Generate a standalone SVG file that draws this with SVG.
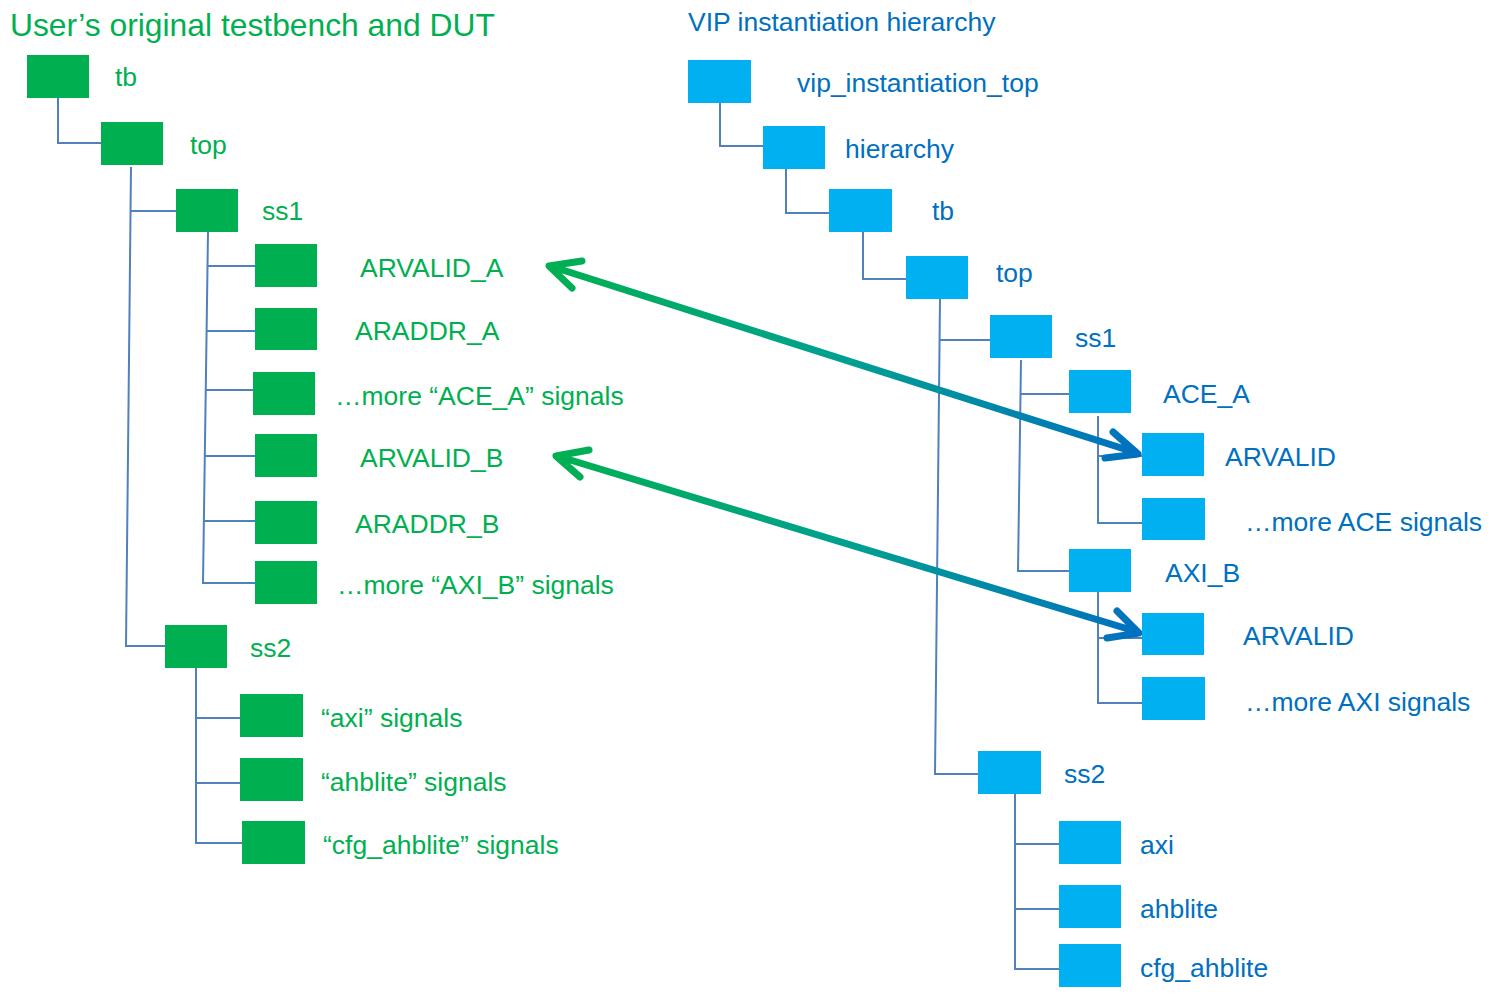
<svg xmlns="http://www.w3.org/2000/svg" width="1499" height="994" viewBox="0 0 1499 994">
<style>
.g{fill:#00B050}
.b{fill:#00B0F0}
.tg{fill:#00B050;font-family:"Liberation Sans",Arial,sans-serif;font-size:26.5px}
.tb{fill:#0070C0;font-family:"Liberation Sans",Arial,sans-serif;font-size:26.5px}
.ln{fill:none;stroke:#4F81BD;stroke-width:2}
.ar{fill:none;stroke-width:7;stroke-linecap:round;stroke-linejoin:round}
</style>
<defs>
<linearGradient id="grad1" gradientUnits="userSpaceOnUse" x1="547" y1="265" x2="1140" y2="454">
<stop offset="0" stop-color="#00B050"/>
<stop offset="0.5" stop-color="#00A090"/>
<stop offset="1" stop-color="#0070C0"/>
</linearGradient>
<linearGradient id="grad2" gradientUnits="userSpaceOnUse" x1="554" y1="455" x2="1141" y2="633">
<stop offset="0" stop-color="#00B050"/>
<stop offset="0.5" stop-color="#00A090"/>
<stop offset="1" stop-color="#0070C0"/>
</linearGradient>
</defs>
<rect width="1499" height="994" fill="#FFFFFF"/>
<text class="tg" x="10" y="36" style="font-size:31.8px">User’s original testbench and DUT</text>
<text class="tb" x="688" y="31">VIP instantiation hierarchy</text>

<g id="connectors">
<polyline class="ln" points="58,98 58,143 101,143"/>
<polyline class="ln" points="131,167 126,646 165,646"/>
<line class="ln" x1="130" y1="211" x2="176" y2="211"/>
<polyline class="ln" points="208,232 203,583 255,583"/>
<line class="ln" x1="207" y1="266" x2="255" y2="266"/>
<line class="ln" x1="207" y1="331" x2="255" y2="331"/>
<line class="ln" x1="206" y1="390" x2="253" y2="390"/>
<line class="ln" x1="205" y1="456" x2="255" y2="456"/>
<line class="ln" x1="204" y1="521" x2="255" y2="521"/>
<polyline class="ln" points="196,668 196,843 242,843"/>
<line class="ln" x1="195" y1="718" x2="240" y2="718"/>
<line class="ln" x1="195" y1="783" x2="240" y2="783"/>

<polyline class="ln" points="720,103 720,146 763,146"/>
<polyline class="ln" points="786,169 786,213 829,213"/>
<polyline class="ln" points="863,232 863,279 906,279"/>
<polyline class="ln" points="940,299 935,774 978,774"/>
<line class="ln" x1="940" y1="340" x2="990" y2="340"/>
<polyline class="ln" points="1021,360 1018,571 1069,571"/>
<line class="ln" x1="1020" y1="394" x2="1069" y2="394"/>
<polyline class="ln" points="1098,416 1098,523 1142,523"/>
<line class="ln" x1="1098" y1="456" x2="1142" y2="456"/>
<polyline class="ln" points="1098,592 1098,703 1142,703"/>
<line class="ln" x1="1098" y1="638" x2="1142" y2="638"/>
<polyline class="ln" points="1015,794 1015,969 1059,969"/>
<line class="ln" x1="1014" y1="844" x2="1059" y2="844"/>
<line class="ln" x1="1014" y1="909" x2="1059" y2="909"/>

<path class="ar" stroke="url(#grad1)" d="M550,266 L1137,453 M582,261 L549,266 L572,288 M1113,432 L1138,454 L1105,458"/>
<path class="ar" stroke="url(#grad2)" d="M557,456 L1138,632 M589,450 L556,456 L580,477 M1117,611 L1139,633 L1107,638"/>
</g>

<g id="l-tb"><rect class="g" x="27" y="55" width="62" height="43"/><text class="tg" x="115" y="86">tb</text></g>
<g id="l-top"><rect class="g" x="101" y="122" width="62" height="43"/><text class="tg" x="190" y="154">top</text></g>
<g id="l-ss1"><rect class="g" x="176" y="189" width="62" height="43"/><text class="tg" x="262" y="220">ss1</text></g>
<g id="l-arvalid-a"><rect class="g" x="255" y="244" width="62" height="43"/><text class="tg" x="360" y="277">ARVALID_A</text></g>
<g id="l-araddr-a"><rect class="g" x="255" y="308" width="62" height="42"/><text class="tg" x="355" y="340">ARADDR_A</text></g>
<g id="l-more-ace"><rect class="g" x="253" y="372" width="62" height="43"/><text class="tg" x="335" y="405">…more “ACE_A” signals</text></g>
<g id="l-arvalid-b"><rect class="g" x="255" y="434" width="62" height="43"/><text class="tg" x="360" y="467">ARVALID_B</text></g>
<g id="l-araddr-b"><rect class="g" x="255" y="501" width="62" height="43"/><text class="tg" x="355" y="533">ARADDR_B</text></g>
<g id="l-more-axi"><rect class="g" x="255" y="561" width="62" height="43"/><text class="tg" x="337" y="594">…more “AXI_B” signals</text></g>
<g id="l-ss2"><rect class="g" x="165" y="625" width="62" height="43"/><text class="tg" x="250" y="657">ss2</text></g>
<g id="l-axi"><rect class="g" x="240" y="694" width="63" height="43"/><text class="tg" x="321" y="727">“axi” signals</text></g>
<g id="l-ahblite"><rect class="g" x="240" y="758" width="63" height="43"/><text class="tg" x="321" y="791">“ahblite” signals</text></g>
<g id="l-cfg"><rect class="g" x="242" y="821" width="63" height="43"/><text class="tg" x="323" y="854">“cfg_ahblite” signals</text></g>

<g id="r-vip"><rect class="b" x="688" y="60" width="63" height="43"/><text class="tb" x="797" y="92">vip_instantiation_top</text></g>
<g id="r-hierarchy"><rect class="b" x="763" y="126" width="62" height="43"/><text class="tb" x="845" y="158">hierarchy</text></g>
<g id="r-tb"><rect class="b" x="829" y="189" width="63" height="43"/><text class="tb" x="932" y="220">tb</text></g>
<g id="r-top"><rect class="b" x="906" y="256" width="62" height="43"/><text class="tb" x="996" y="282">top</text></g>
<g id="r-ss1"><rect class="b" x="990" y="315" width="62" height="43"/><text class="tb" x="1075" y="347">ss1</text></g>
<g id="r-ace-a"><rect class="b" x="1069" y="370" width="62" height="43"/><text class="tb" x="1163" y="403">ACE_A</text></g>
<g id="r-arvalid-a"><rect class="b" x="1142" y="433" width="62" height="43"/><text class="tb" x="1225" y="466">ARVALID</text></g>
<g id="r-more-ace"><rect class="b" x="1142" y="498" width="63" height="42"/><text class="tb" x="1245" y="531">…more ACE signals</text></g>
<g id="r-axi-b"><rect class="b" x="1069" y="549" width="62" height="43"/><text class="tb" x="1165" y="582">AXI_B</text></g>
<g id="r-arvalid-b"><rect class="b" x="1142" y="613" width="62" height="42"/><text class="tb" x="1243" y="645">ARVALID</text></g>
<g id="r-more-axi"><rect class="b" x="1142" y="677" width="63" height="43"/><text class="tb" x="1245" y="711">…more AXI signals</text></g>
<g id="r-ss2"><rect class="b" x="978" y="751" width="63" height="43"/><text class="tb" x="1064" y="783">ss2</text></g>
<g id="r-axi"><rect class="b" x="1059" y="821" width="62" height="43"/><text class="tb" x="1140" y="854">axi</text></g>
<g id="r-ahblite"><rect class="b" x="1059" y="885" width="62" height="43"/><text class="tb" x="1140" y="918">ahblite</text></g>
<g id="r-cfg"><rect class="b" x="1059" y="944" width="62" height="43"/><text class="tb" x="1140" y="977">cfg_ahblite</text></g>
</svg>
